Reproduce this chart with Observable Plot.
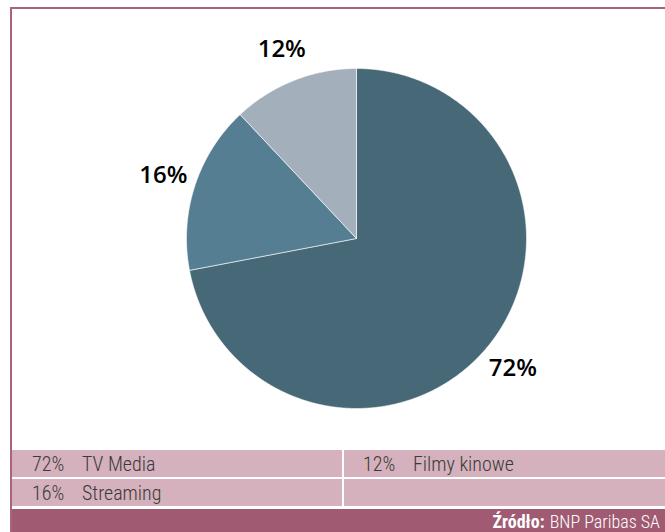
<!DOCTYPE html>
<html>
<head>
<meta charset="utf-8">
<script src="https://cdn.jsdelivr.net/npm/d3@7"></script>
<script src="https://cdn.jsdelivr.net/npm/@observablehq/plot@0.6"></script>
<style>
  html, body { margin: 0; padding: 0; background: #fff; }
  body { width: 665px; height: 532px; position: relative; overflow: hidden; }
  #frame { position: absolute; left: 10px; top: 7px; width: 655px; height: 525px;
           border-top: 2px solid #a8637d; border-left: 2px solid #a8637d; box-sizing: border-box; }
  #chart { position: absolute; left: 0; top: 0; }
  .row { position: absolute; left: 0; width: 653px; height: 27px; background: #d4b1bc; }
  .cell { position: absolute; top: 0; height: 100%; display: flex; align-items: center;
          font-family: "Roboto Condensed", "Liberation Sans Narrow", "DejaVu Sans Condensed", sans-serif;
          font-weight: 300; font-size: 20px; color: #3a3a3a; }
  .divider { position: absolute; left: 330px; top: 0; width: 2px; height: 100%; background: #fff; }
  #footer { position: absolute; left: 0; top: 500px; width: 653px; height: 25px; background: #a05a72;
            color: #fff; font-family: "Roboto Condensed", "Liberation Sans Narrow", "DejaVu Sans Condensed", sans-serif;
            font-size: 18px; font-weight: 300; display: flex; align-items: center; justify-content: flex-end;
            padding-right: 5px; box-sizing: border-box; }
  #footer b { font-weight: 700; margin-right: 5px; }
</style>
</head>
<body>
<div id="frame">
  <div id="chart"></div>
  <div id="legend"></div>
  <div id="footer"><b>Źródło:</b>BNP Paribas SA</div>
</div>
<script>
const categories = ["TV Media", "Streaming", "Filmy kinowe"];
const shares = [72, 16, 12];
const sliceColors = ["#476877", "#557e92", "#a3b0bb"];
const legendOrder = [["TV Media", "Filmy kinowe"], ["Streaming", null]];

const W = 653, H = 441, CX = 344, CY = 229, R = 170, LR = 203;

const arcs = d3.pie().sort(null).value(d => d)(shares);
const polyPts = [];
arcs.forEach((a, i) => {
  const cat = categories[i];
  polyPts.push({cat, x: 0, y: 0});
  const n = Math.max(2, Math.ceil((a.endAngle - a.startAngle) / 0.005));
  for (let k = 0; k <= n; k++) {
    const t = a.startAngle + (a.endAngle - a.startAngle) * k / n;
    polyPts.push({cat, x: R * Math.sin(t), y: R * Math.cos(t)});
  }
  polyPts.push({cat, x: 0, y: 0});
});
const labels = arcs.map((a, i) => {
  const m = (a.startAngle + a.endAngle) / 2;
  return {text: shares[i] + "%", x: LR * Math.sin(m), y: LR * Math.cos(m)};
});

const plot = Plot.plot({
  width: W, height: H, margin: 0,
  style: {background: "transparent", fontFamily: "'Open Sans', sans-serif"},
  x: {domain: [-CX, W - CX], axis: null},
  y: {domain: [CY - H, CY], axis: null},
  color: {domain: categories, range: sliceColors},
  marks: [
    Plot.line(polyPts, {x: "x", y: "y", z: "cat", fill: "cat", stroke: "#ffffff", strokeWidth: 0.6, curve: "linear"}),
    Plot.text(labels, {x: "x", y: "y", text: "text", fontSize: 24, fontWeight: 600, fill: "#000"})
  ]
});
document.getElementById("chart").appendChild(plot);

const legend = document.getElementById("legend");
legendOrder.forEach((row, ri) => {
  const r = document.createElement("div");
  r.className = "row";
  r.style.top = (441 + ri * 29) + "px";
  row.forEach((cat, ci) => {
    if (!cat) return;
    const i = categories.indexOf(cat);
    const base = ci === 0 ? 20 : 351;
    const p = document.createElement("div");
    p.className = "cell"; p.style.left = base + "px"; p.textContent = shares[i] + "%";
    const l = document.createElement("div");
    l.className = "cell"; l.style.left = (base + 50) + "px"; l.textContent = cat;
    r.appendChild(p); r.appendChild(l);
  });
  const d = document.createElement("div"); d.className = "divider"; r.appendChild(d);
  legend.appendChild(r);
});
</script>
</body>
</html>
